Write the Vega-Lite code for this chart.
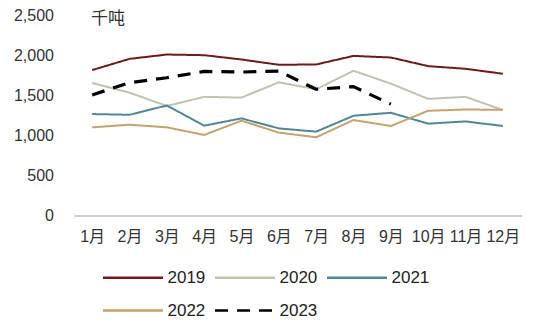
{
  "$schema": "https://vega.github.io/schema/vega-lite/v6.json",
  "autosize": "none",
  "width": 448,
  "height": 200,
  "padding": {"left": 73.5, "top": 15.5, "right": 27.5, "bottom": 112.5},
  "background": "white",
  "config": {
    "view": {"stroke": null},
    "font": "Liberation Sans, Noto Sans CJK SC",
    "axis": {"labelFont": "Liberation Sans, Noto Sans CJK SC", "labelColor": "#333333"},
    "legend": {"labelFont": "Liberation Sans, Noto Sans CJK SC"}
  },
  "data": {
    "values": [
      {"month": "1月", "year": "2019", "value": 1818},
      {"month": "2月", "year": "2019", "value": 1958},
      {"month": "3月", "year": "2019", "value": 2012},
      {"month": "4月", "year": "2019", "value": 2004},
      {"month": "5月", "year": "2019", "value": 1950},
      {"month": "6月", "year": "2019", "value": 1884},
      {"month": "7月", "year": "2019", "value": 1888},
      {"month": "8月", "year": "2019", "value": 1995},
      {"month": "9月", "year": "2019", "value": 1975},
      {"month": "10月", "year": "2019", "value": 1867},
      {"month": "11月", "year": "2019", "value": 1834},
      {"month": "12月", "year": "2019", "value": 1772},
      {"month": "1月", "year": "2020", "value": 1656},
      {"month": "2月", "year": "2020", "value": 1536},
      {"month": "3月", "year": "2020", "value": 1369},
      {"month": "4月", "year": "2020", "value": 1483},
      {"month": "5月", "year": "2020", "value": 1474},
      {"month": "6月", "year": "2020", "value": 1665},
      {"month": "7月", "year": "2020", "value": 1578},
      {"month": "8月", "year": "2020", "value": 1809},
      {"month": "9月", "year": "2020", "value": 1648},
      {"month": "10月", "year": "2020", "value": 1458},
      {"month": "11月", "year": "2020", "value": 1483},
      {"month": "12月", "year": "2020", "value": 1318},
      {"month": "1月", "year": "2021", "value": 1268},
      {"month": "2月", "year": "2021", "value": 1259},
      {"month": "3月", "year": "2021", "value": 1375},
      {"month": "4月", "year": "2021", "value": 1123},
      {"month": "5月", "year": "2021", "value": 1214},
      {"month": "6月", "year": "2021", "value": 1089},
      {"month": "7月", "year": "2021", "value": 1048},
      {"month": "8月", "year": "2021", "value": 1247},
      {"month": "9月", "year": "2021", "value": 1284},
      {"month": "10月", "year": "2021", "value": 1148},
      {"month": "11月", "year": "2021", "value": 1176},
      {"month": "12月", "year": "2021", "value": 1119},
      {"month": "1月", "year": "2022", "value": 1102},
      {"month": "2月", "year": "2022", "value": 1135},
      {"month": "3月", "year": "2022", "value": 1102},
      {"month": "4月", "year": "2022", "value": 1007},
      {"month": "5月", "year": "2022", "value": 1185},
      {"month": "6月", "year": "2022", "value": 1036},
      {"month": "7月", "year": "2022", "value": 978},
      {"month": "8月", "year": "2022", "value": 1193},
      {"month": "9月", "year": "2022", "value": 1119},
      {"month": "10月", "year": "2022", "value": 1309},
      {"month": "11月", "year": "2022", "value": 1325},
      {"month": "12月", "year": "2022", "value": 1321},
      {"month": "1月", "year": "2023", "value": 1507},
      {"month": "2月", "year": "2023", "value": 1660},
      {"month": "3月", "year": "2023", "value": 1722},
      {"month": "4月", "year": "2023", "value": 1801},
      {"month": "5月", "year": "2023", "value": 1793},
      {"month": "6月", "year": "2023", "value": 1805},
      {"month": "7月", "year": "2023", "value": 1578},
      {"month": "8月", "year": "2023", "value": 1611},
      {"month": "9月", "year": "2023", "value": 1392}
    ]
  },
  "mark": {"type": "line", "strokeJoin": "round"},
  "encoding": {
    "x": {
      "field": "month",
      "type": "ordinal",
      "sort": ["1月", "2月", "3月", "4月", "5月", "6月", "7月", "8月", "9月", "10月", "11月", "12月"],
      "scale": {"type": "point", "padding": 0.5},
      "axis": {
        "title": null,
        "labelAngle": 0,
        "labelFontSize": 16,
        "labelPadding": 13,
        "ticks": false,
        "tickSize": 0,
        "domainColor": "#D0D0D0",
        "domainWidth": 2,
        "grid": false
      }
    },
    "y": {
      "field": "value",
      "type": "quantitative",
      "scale": {"domain": [0, 2500], "nice": false, "zero": true},
      "axis": {
        "values": [0, 500, 1000, 1500, 2000, 2500],
        "format": ",.0f",
        "labelFontSize": 16,
        "labelPadding": 20,
        "ticks": false,
        "tickSize": 0,
        "domain": false,
        "grid": false,
        "title": "千吨",
        "titleAngle": 0,
        "titleAlign": "left",
        "titleBaseline": "middle",
        "titleX": 17,
        "titleY": 3,
        "titleFontSize": 17,
        "titleFontWeight": "normal",
        "titleColor": "#333333",
        "titleFont": "Noto Sans CJK SC"
      }
    },
    "color": {
      "field": "year",
      "type": "nominal",
      "scale": {
        "domain": ["2019", "2020", "2021", "2022", "2023"],
        "range": ["#6E1A1A", "#C2C2B2", "#4F8798", "#C2A46C", "#000000"]
      },
      "legend": {
        "title": null,
        "orient": "none",
        "legendX": 48,
        "legendY": 250.5,
        "direction": "horizontal",
        "columns": 3,
        "symbolType": "M-3,0L3,0",
        "symbolSize": 400,
        "symbolStrokeWidth": 2.5,
        "labelFontSize": 17,
        "labelColor": "#222222",
        "labelOffset": 23,
        "columnPadding": 4,
        "rowPadding": 13
      }
    },
    "strokeDash": {
      "field": "year",
      "type": "nominal",
      "scale": {
        "domain": ["2019", "2020", "2021", "2022", "2023"],
        "range": [[1, 0], [1, 0], [1, 0], [1, 0], [13, 9]]
      },
      "legend": null
    },
    "strokeWidth": {
      "condition": {"test": "datum.year == '2023'", "value": 3.2},
      "value": 2
    }
  }
}
